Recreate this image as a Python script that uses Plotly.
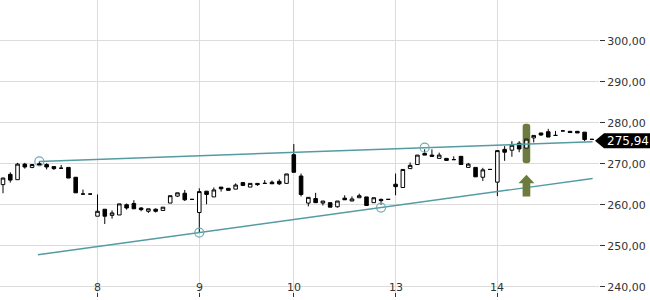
import plotly.graph_objects as go

# ---- data ----
idx = list(range(1, 83))
opens = [264.9, 267.4, 266.1, 269.9, 269.1, 270.0, 269.8, 269.3, 268.9, 269.1,
         266.7, 262.6, 262.6, 257.2, 258.9, 257.4, 257.5, 260.0, 260.3, 259.2,
         258.4, 258.9, 258.6, 260.4, 262.1, 262.8, 261.3, 258.1, 263.3, 261.9,
         264.3, 264.0, 263.8, 265.4, 264.3, 265.2, 265.2, 265.5, 265.7, 265.2,
         272.2, 267.0, 260.4, 261.5, 260.4, 260.5, 259.5, 261.6, 260.9, 261.7,
         261.9, 260.5, 261.3, 261.3, 265.0, 264.2, 268.8, 269.8, 272.5, 272.1,
         271.3, 271.3, 271.0, 271.8, 269.1, 269.1, 266.7, 268.6, 265.5, 273.5,
         273.3, 275.0, 273.8, 276.3, 277.5, 277.8, 276.9, 278.0, 277.9, 277.9,
         277.7, 275.94]
highs = [266.6, 267.9, 270.2, 270.2, 269.8, 270.6, 270.1, 269.3, 269.7, 269.1,
         266.7, 263.7, 262.6, 262.5, 258.9, 258.6, 260.2, 260.3, 261.1, 259.4,
         259.0, 259.1, 259.4, 262.2, 262.9, 263.6, 261.3, 264.0, 263.3, 264.2,
         264.3, 264.0, 265.2, 265.4, 265.2, 265.2, 266.0, 265.9, 266.2, 267.5,
         274.8, 267.6, 261.8, 262.9, 260.9, 260.5, 260.9, 262.3, 262.0, 262.7,
         261.9, 261.7, 261.5, 261.3, 267.6, 268.6, 270.3, 272.1, 273.5, 273.5,
         272.7, 271.3, 271.8, 271.8, 270.2, 269.1, 269.0, 268.6, 273.2, 274.3,
         275.5, 275.5, 276.0, 276.9, 277.5, 278.5, 278.0, 278.1, 277.9, 277.9,
         277.7, 275.94]
lows = [262.8, 265.4, 266.1, 268.8, 268.9, 269.5, 268.6, 268.5, 268.9, 266.5,
        262.9, 262.6, 262.6, 257.2, 255.3, 256.6, 257.5, 258.8, 259.0, 258.4,
        258.0, 258.1, 258.6, 260.4, 261.9, 260.9, 261.3, 253.3, 260.1, 261.9,
        263.2, 263.5, 263.8, 264.7, 264.3, 264.6, 265.2, 265.1, 264.8, 265.2,
        267.9, 262.0, 259.6, 260.5, 259.8, 259.4, 259.3, 261.2, 260.9, 261.7,
        259.8, 260.5, 260.0, 261.3, 262.3, 264.2, 268.8, 269.8, 272.1, 271.8,
        271.3, 270.8, 271.0, 269.8, 269.1, 266.8, 265.8, 268.6, 262.1, 270.7,
        271.7, 272.8, 273.8, 275.2, 276.8, 276.5, 276.9, 278.0, 277.6, 277.5,
        275.5, 275.94]
closes = [266.5, 266.0, 269.9, 269.2, 269.8, 269.6, 269.2, 268.8, 268.9, 266.5,
          262.9, 262.6, 262.6, 258.4, 257.2, 258.0, 260.2, 259.2, 259.0, 258.8,
          259.0, 258.4, 259.4, 262.2, 262.9, 261.2, 261.3, 263.2, 262.5, 263.6,
          263.9, 263.5, 264.8, 264.7, 265.2, 264.9, 265.2, 265.1, 265.1, 267.5,
          267.9, 262.5, 261.8, 260.5, 260.9, 259.4, 260.9, 261.2, 261.4, 262.2,
          259.8, 261.7, 261.0, 261.3, 264.4, 268.6, 269.6, 272.1, 272.1, 271.8,
          272.1, 270.8, 271.0, 269.8, 269.9, 266.8, 268.5, 268.6, 273.2, 272.8,
          274.5, 273.6, 276.0, 276.9, 277.0, 276.5, 276.9, 278.0, 277.6, 277.5,
          275.9, 275.94]

day_ticks = [0, 14, 28, 41, 55, 69]
day_labels = ["7", "8", "9", "10", "13", "14"]
y_ticks = [240, 250, 260, 270, 280, 290, 300]

upper_x = [6, 82.1]
upper_y = [270.55, 275.36]
upper_pts_x = [6, 59]
upper_pts_y = [270.55, 273.9]
lower_x = [5.8, 82.1]
lower_y = [247.8, 266.4]
lower_pts_x = [28, 53]
lower_pts_y = [253.2, 259.3]

marker_idx = 73
last_price = closes[-1]

TEAL = "rgb(84,155,162)"
CIRCLE = "rgb(110,172,178)"
GREEN = "rgb(108,124,62)"
FONT = "DejaVu Sans"

X_RANGE = [0.587, 82.98]
W = 599.0
PX_PER_IDX = W / (X_RANGE[1] - X_RANGE[0])

fig = go.Figure()

fig.add_trace(go.Scatter(x=upper_x, y=upper_y, mode="lines",
                         line=dict(color=TEAL, width=1.4), hoverinfo="skip"))
fig.add_trace(go.Scatter(x=lower_x, y=lower_y, mode="lines",
                         line=dict(color=TEAL, width=1.4), hoverinfo="skip"))

fig.add_trace(go.Candlestick(
    x=idx, open=opens, high=highs, low=lows, close=closes,
    increasing=dict(line=dict(color="black", width=1), fillcolor="white"),
    decreasing=dict(line=dict(color="black", width=1), fillcolor="black"),
    whiskerwidth=0,
))

fig.add_trace(go.Scatter(x=upper_pts_x + lower_pts_x, y=upper_pts_y + lower_pts_y,
                         mode="markers",
                         marker=dict(symbol="circle-open", size=9,
                                     line=dict(color=CIRCLE, width=1.2), color=CIRCLE),
                         hoverinfo="skip"))

# green highlight (rounded bar) and up-arrow near the marked candle
x0, x1 = marker_idx - 0.52, marker_idx + 0.52
yb, yt = 270.13, 279.76
rx, ry = 0.4, 0.7
rect_path = (f"M {x0+rx},{yb} L {x1-rx},{yb} Q {x1},{yb} {x1},{yb+ry} "
             f"L {x1},{yt-ry} Q {x1},{yt} {x1-rx},{yt} L {x0+rx},{yt} "
             f"Q {x0},{yt} {x0},{yt-ry} L {x0},{yb+ry} Q {x0},{yb} {x0+rx},{yb} Z")
arrow_path = (f"M {marker_idx},267.3 L {marker_idx+1.1},265.25 L {marker_idx+0.53},265.25 "
              f"L {marker_idx+0.53},262.0 L {marker_idx-0.53},262.0 L {marker_idx-0.53},265.25 "
              f"L {marker_idx-1.1},265.25 Z")

shapes = [
    dict(type="path", path=rect_path, xref="x", yref="y", fillcolor=GREEN,
         line=dict(width=0), layer="between"),
    dict(type="path", path=arrow_path, xref="x", yref="y", fillcolor=GREEN,
         line=dict(width=0), layer="above"),
]

# last price tag
yc = last_price - 0.35
h = 1.83
tag_path = (f"M {595/W},{yc} L {604/W},{yc+h} L {652/W},{yc+h} "
            f"L {652/W},{yc-h} L {604/W},{yc-h} Z")
shapes.append(dict(type="path", path=tag_path, xref="paper", yref="y",
                   fillcolor="black", line=dict(width=0), layer="above"))

annotations = [
    dict(x=605/W, y=yc, xref="paper", yref="y", xanchor="left", yanchor="middle",
         text=f"{last_price:.2f}".replace(".", ","), showarrow=False,
         font=dict(family=FONT, size=12, color="white")),
]
# day labels sitting on the bottom grid line (tick marks drawn by the axis below them)
for tv, tl in zip(day_ticks, day_labels):
    xp = (tv - X_RANGE[0]) / (X_RANGE[1] - X_RANGE[0])
    annotations.append(dict(x=xp, y=239.9, xref="paper", yref="y",
                            xanchor="center", yanchor="middle", text=tl,
                            showarrow=False,
                            font=dict(family=FONT, size=11, color="#333")))

fig.update_layout(
    width=650, height=300,
    margin=dict(l=0, r=51, t=0, b=3),
    paper_bgcolor="white", plot_bgcolor="white",
    showlegend=False,
    separators=",.",
    font=dict(family=FONT, size=11, color="#333"),
    shapes=shapes, annotations=annotations,
    xaxis=dict(range=X_RANGE, tickvals=day_ticks, ticktext=day_labels,
               showticklabels=False,
               showgrid=True, gridcolor="#dcdcdc", gridwidth=1,
               ticks="inside", ticklen=4, tickcolor="#333",
               zeroline=False, showline=False,
               rangeslider=dict(visible=False), fixedrange=True),
    yaxis=dict(range=[237.49, 309.93], side="right", tickvals=y_ticks,
               tickformat=".2f", showgrid=True, gridcolor="#dcdcdc", gridwidth=1,
               ticks="outside", ticklen=5, tickcolor="#333",
               zeroline=False, showline=False, fixedrange=True),
)

fig.write_html("out.html")
